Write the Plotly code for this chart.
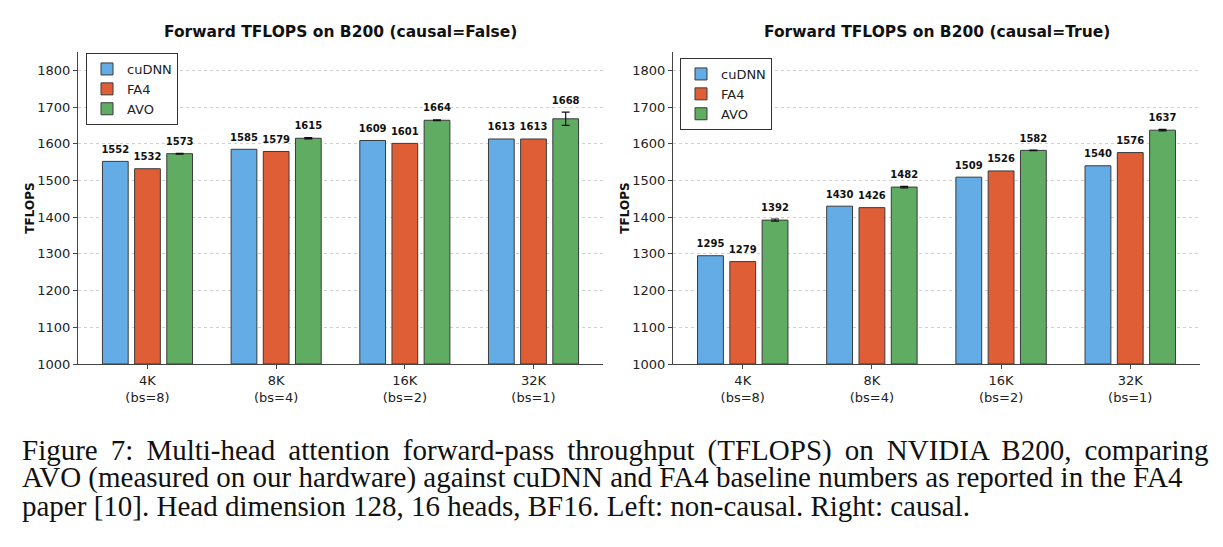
import plotly.graph_objects as go

categories = ["4K<br>(bs=8)", "8K<br>(bs=4)", "16K<br>(bs=2)", "32K<br>(bs=1)"]
series_names = ["cuDNN", "FA4", "AVO"]

left_cudnn = [1552, 1585, 1609, 1613]
left_fa4 = [1532, 1579, 1601, 1613]
left_avo = [1573, 1615, 1664, 1668]
left_avo_err = [1, 1.5, 1, 18]

right_cudnn = [1295, 1430, 1509, 1540]
right_fa4 = [1279, 1426, 1526, 1576]
right_avo = [1392, 1482, 1582, 1637]
right_avo_err = [3, 2, 1, 2]

titles = ["Forward TFLOPS on B200 (causal=False)", "Forward TFLOPS on B200 (causal=True)"]
caption_lines = [
    "Figure 7: Multi-head attention forward-pass throughput (TFLOPS) on NVIDIA B200, comparing",
    "AVO (measured on our hardware) against cuDNN and FA4 baseline numbers as reported in the FA4",
    "paper [10]. Head dimension 128, 16 heads, BF16. Left: non-causal. Right: causal.",
]
# extra inter-word spacing to imitate the justified caption lines
caption_gap = ["\u2009", "", ""]

colors = ["#63ACE6", "#E05E36", "#60AC62"]
offsets = [-0.25, 0.0, 0.25]
BAR_W = 0.2
FONT = "DejaVu Sans"

fig = go.Figure()

panels = [
    dict(data=[left_cudnn, left_fa4, left_avo], errs=[None, None, left_avo_err],
         xa="x", ya="y", legend="legend"),
    dict(data=[right_cudnn, right_fa4, right_avo], errs=[None, None, right_avo_err],
         xa="x2", ya="y2", legend="legend2"),
]

for p in panels:
    for s, (name, vals, err) in enumerate(zip(series_names, p["data"], p["errs"])):
        xs = [i + offsets[s] for i in range(len(vals))]
        bar = dict(
            x=xs, y=[v - 1000 for v in vals], base=1000, width=BAR_W, name=name,
            marker=dict(color=colors[s], line=dict(color="#3a3a3a", width=1)),
            xaxis=p["xa"], yaxis=p["ya"], legend=p["legend"], showlegend=True,
        )
        if err is not None:
            bar["error_y"] = dict(type="data", array=err, visible=True,
                                  color="#111", thickness=1.2, width=4)
        fig.add_trace(go.Bar(**bar))
        tops = [v + (err[i] if err is not None else 0) for i, v in enumerate(vals)]
        fig.add_trace(go.Scatter(
            x=xs, y=tops, mode="markers+text", text=[str(v) for v in vals],
            textposition="top center", marker=dict(size=8, opacity=0),
            textfont=dict(family=FONT, size=10, color="#111", weight="bold"),
            xaxis=p["xa"], yaxis=p["ya"], showlegend=False, hoverinfo="skip",
        ))

W, H = 1223, 547
xd1 = [78 / W, 603 / W]
xd2 = [673 / W, 1200 / W]
yd = [1 - 364 / H, 1 - 52 / H]

axis_common = dict(
    showline=True, linecolor="#444", linewidth=1, ticks="outside", ticklen=4,
    tickcolor="#444", tickfont=dict(family=FONT, size=13, color="#222"),
    zeroline=False, automargin=False,
)
yaxis_common = dict(
    axis_common, range=[1000, 1850], tickvals=list(range(1000, 1801, 100)),
    showgrid=True, gridcolor="#d0d0d0", griddash="3px,3px", gridwidth=1,
)
xaxis_common = dict(
    axis_common, range=[-0.54, 3.54], tickvals=list(range(len(categories))),
    ticktext=categories, showgrid=False,
)

fig.update_layout(
    width=W, height=H, margin=dict(l=0, r=0, t=0, b=0, pad=0, autoexpand=False),
    paper_bgcolor="white", plot_bgcolor="white",
    barmode="overlay",
    font=dict(family=FONT, color="#222"),
    xaxis=dict(xaxis_common, domain=xd1, anchor="y"),
    yaxis=dict(yaxis_common, domain=yd, anchor="x",
               title=dict(text="<b>TFLOPS</b>", font=dict(size=12, color="#111"), standoff=0)),
    xaxis2=dict(xaxis_common, domain=xd2, anchor="y2"),
    yaxis2=dict(yaxis_common, domain=yd, anchor="x2",
                title=dict(text="<b>TFLOPS</b>", font=dict(size=12, color="#111"), standoff=0)),
    legend=dict(x=86 / W, y=1 - 53 / H, xanchor="left", yanchor="top",
                bgcolor="white", bordercolor="#333", borderwidth=1,
                font=dict(family=FONT, size=13, color="#222"), tracegroupgap=0),
    legend2=dict(x=680 / W, y=1 - 58 / H, xanchor="left", yanchor="top",
                 bgcolor="white", bordercolor="#333", borderwidth=1,
                 font=dict(family=FONT, size=13, color="#222"), tracegroupgap=0),
)

for t, xd in zip(titles, [xd1, xd2]):
    fig.add_annotation(text="<b>" + t + "</b>", x=(xd[0] + xd[1]) / 2, y=1 - 32 / H,
                       xref="paper", yref="paper", xanchor="center", yanchor="middle",
                       showarrow=False,
                       font=dict(family=FONT, size=15.5, color="#111"))

for k, line in enumerate(caption_lines):
    shown = line.replace(" ", " " + caption_gap[k]) if caption_gap[k] else line
    fig.add_annotation(text=shown, x=20 / W, y=1 - (450 + 28 * k) / H,
                       xref="paper", yref="paper", xanchor="left", yanchor="middle",
                       showarrow=False,
                       font=dict(family="Liberation Serif", size=29, color="#111"))

fig.write_html("out.html")
